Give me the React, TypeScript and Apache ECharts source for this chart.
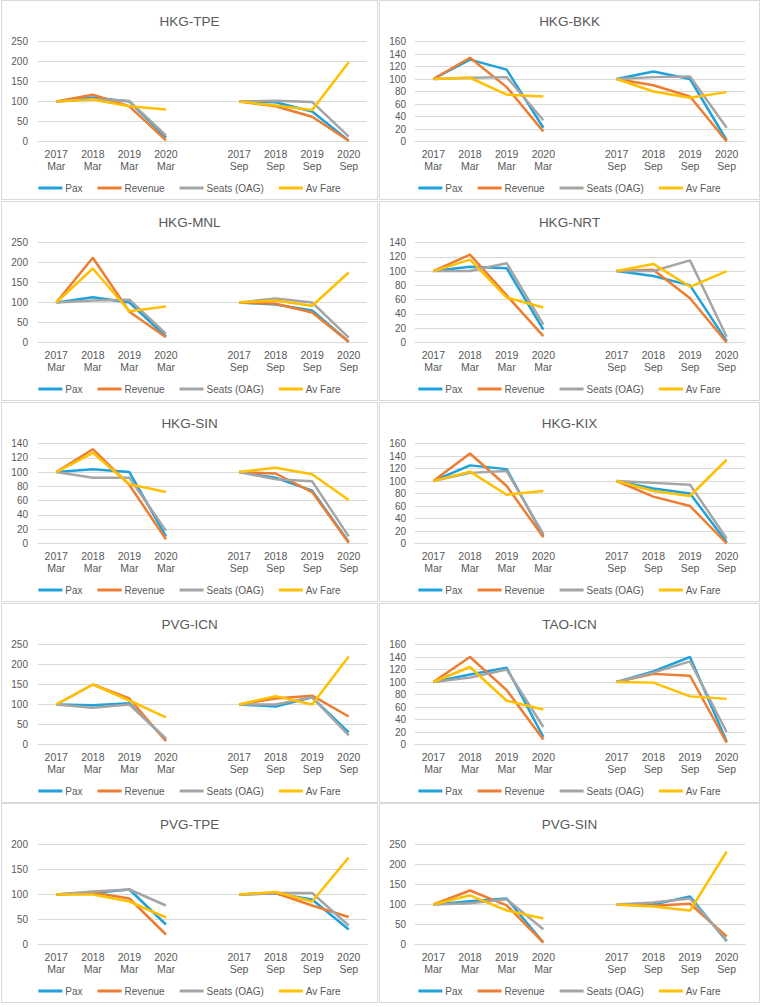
import React, { useEffect, useRef } from "react";
import * as echarts from "echarts";

// ---------- data ----------
const CATEGORIES = [
  "2017\nMar", "2018\nMar", "2019\nMar", "2020\nMar", "",
  "2017\nSep", "2018\nSep", "2019\nSep", "2020\nSep",
];
const SERIES_NAMES = ["Pax", "Revenue", "Seats (OAG)", "Av Fare"];
const SERIES_COLORS = ["#1FA1DB", "#ED7D31", "#A5A5A5", "#FFC000"];

const HKG_TPE_PAX = [100, 110, 100, 10, null, 100, 98, 75, 2];
const HKG_TPE_REV = [100, 117, 88, 3, null, 100, 88, 62, 2];
const HKG_TPE_SEATS = [100, 106, 101, 15, null, 100, 102, 99, 12];
const HKG_TPE_FARE = [100, 105, 88, 80, null, 100, 90, 79, 198];

const HKG_BKK_PAX = [100, 131, 115, 22, null, 100, 112, 100, 2];
const HKG_BKK_REV = [100, 134, 87, 16, null, 100, 90, 72, 0];
const HKG_BKK_SEATS = [100, 102, 103, 34, null, 100, 103, 104, 22];
const HKG_BKK_FARE = [100, 102, 75, 72, null, 100, 80, 70, 79];

const HKG_MNL_PAX = [100, 113, 100, 15, null, 100, 95, 80, 2];
const HKG_MNL_REV = [100, 212, 77, 13, null, 100, 97, 75, 2];
const HKG_MNL_SEATS = [100, 105, 107, 22, null, 100, 110, 100, 12];
const HKG_MNL_FARE = [100, 185, 78, 90, null, 100, 105, 92, 175];

const HKG_NRT_PAX = [100, 106, 104, 18, null, 100, 93, 80, 2];
const HKG_NRT_REV = [100, 123, 66, 9, null, 100, 102, 62, 0];
const HKG_NRT_SEATS = [100, 100, 111, 25, null, 100, 100, 115, 8];
const HKG_NRT_FARE = [100, 116, 63, 49, null, 100, 110, 78, 100];

const HKG_SIN_PAX = [100, 104, 100, 10, null, 100, 92, 74, 2];
const HKG_SIN_REV = [100, 132, 82, 6, null, 100, 98, 72, 1];
const HKG_SIN_SEATS = [100, 92, 92, 18, null, 100, 90, 87, 10];
const HKG_SIN_FARE = [100, 127, 83, 72, null, 100, 106, 97, 61];

const HKG_KIX_PAX = [100, 125, 119, 12, null, 100, 88, 80, 2];
const HKG_KIX_REV = [100, 144, 92, 10, null, 100, 75, 60, 0];
const HKG_KIX_SEATS = [100, 113, 116, 15, null, 100, 97, 94, 8];
const HKG_KIX_FARE = [100, 115, 78, 84, null, 100, 84, 76, 134];

const PVG_ICN_PAX = [100, 98, 103, 12, null, 100, 95, 118, 30];
const PVG_ICN_REV = [100, 150, 115, 8, null, 100, 115, 122, 70];
const PVG_ICN_SEATS = [100, 92, 100, 15, null, 100, 100, 118, 23];
const PVG_ICN_FARE = [100, 150, 110, 68, null, 100, 121, 100, 220];

const TAO_ICN_PAX = [100, 112, 123, 12, null, 100, 117, 140, 5];
const TAO_ICN_REV = [100, 140, 87, 8, null, 100, 113, 110, 3];
const TAO_ICN_SEATS = [100, 107, 120, 28, null, 100, 115, 133, 20];
const TAO_ICN_FARE = [100, 124, 70, 56, null, 100, 99, 77, 73];

const PVG_TPE_PAX = [100, 103, 110, 40, null, 100, 102, 90, 30];
const PVG_TPE_REV = [100, 104, 92, 20, null, 100, 103, 78, 55];
const PVG_TPE_SEATS = [100, 106, 110, 78, null, 100, 103, 103, 38];
const PVG_TPE_FARE = [100, 100, 86, 54, null, 100, 105, 86, 174];

const PVG_SIN_PAX = [100, 108, 115, 5, null, 100, 100, 120, 8];
const PVG_SIN_REV = [100, 135, 98, 5, null, 100, 97, 102, 20];
const PVG_SIN_SEATS = [100, 103, 113, 38, null, 100, 105, 115, 10];
const PVG_SIN_FARE = [100, 123, 85, 65, null, 100, 95, 85, 232];

const ROUTE_TITLES = [
  "HKG-TPE", "HKG-BKK", "HKG-MNL", "HKG-NRT", "HKG-SIN",
  "HKG-KIX", "PVG-ICN", "TAO-ICN", "PVG-TPE", "PVG-SIN",
];
const Y_MAX = [250, 160, 250, 140, 140, 160, 250, 160, 200, 250];
const Y_INTERVAL = [50, 20, 50, 20, 20, 20, 50, 20, 50, 50];
const ROUTE_DATA = [
  [HKG_TPE_PAX, HKG_TPE_REV, HKG_TPE_SEATS, HKG_TPE_FARE],
  [HKG_BKK_PAX, HKG_BKK_REV, HKG_BKK_SEATS, HKG_BKK_FARE],
  [HKG_MNL_PAX, HKG_MNL_REV, HKG_MNL_SEATS, HKG_MNL_FARE],
  [HKG_NRT_PAX, HKG_NRT_REV, HKG_NRT_SEATS, HKG_NRT_FARE],
  [HKG_SIN_PAX, HKG_SIN_REV, HKG_SIN_SEATS, HKG_SIN_FARE],
  [HKG_KIX_PAX, HKG_KIX_REV, HKG_KIX_SEATS, HKG_KIX_FARE],
  [PVG_ICN_PAX, PVG_ICN_REV, PVG_ICN_SEATS, PVG_ICN_FARE],
  [TAO_ICN_PAX, TAO_ICN_REV, TAO_ICN_SEATS, TAO_ICN_FARE],
  [PVG_TPE_PAX, PVG_TPE_REV, PVG_TPE_SEATS, PVG_TPE_FARE],
  [PVG_SIN_PAX, PVG_SIN_REV, PVG_SIN_SEATS, PVG_SIN_FARE],
];

// ---------- layout ----------
const FONT = "'Liberation Sans', Arial, sans-serif";
const TEXT_COLOR = "#595959";
const GRID_COLOR = "#D9D9D9";
const ROW_TOPS = [0, 201, 402, 603, 803];
const COL_LEFTS = [1, 379];
const COL_WIDTHS = [377, 381];
const PANEL_H = 200;

function Panel({ index, left, top, width, height }: any) {
  const ref = useRef<HTMLDivElement>(null);
  useEffect(() => {
    if (!ref.current) return;
    const chart = echarts.init(ref.current, null, { renderer: "svg" });
    const isRight = index % 2 === 1;
    chart.setOption({
      animation: false,
      textStyle: { fontFamily: FONT },
      title: {
        text: ROUTE_TITLES[index],
        left: "center",
        top: 9,
        textStyle: { fontFamily: FONT, fontSize: 13.5, fontWeight: "normal", color: TEXT_COLOR },
      },
      legend: {
        data: SERIES_NAMES,
        left: "center",
        top: 178,
        icon: "rect",
        itemWidth: 24,
        itemHeight: 3,
        itemGap: 15,
        textStyle: { fontFamily: FONT, fontSize: 10, color: TEXT_COLOR, padding: [0, 0, 0, -2] },
      },
      grid: {
        left: isRight ? 36 : 37,
        width: isRight ? 330 : 329,
        top: 41.5,
        height: 100,
        containLabel: false,
      },
      xAxis: {
        type: "category",
        data: CATEGORIES,
        boundaryGap: true,
        axisLine: { show: true, lineStyle: { color: GRID_COLOR, width: 1 } },
        axisTick: { show: false },
        axisLabel: {
          interval: 0,
          margin: 6,
          color: TEXT_COLOR,
          fontFamily: FONT,
          fontSize: 10.5,
          lineHeight: 12,
        },
      },
      yAxis: {
        type: "value",
        min: 0,
        max: Y_MAX[index],
        interval: Y_INTERVAL[index],
        axisLine: { show: false },
        axisTick: { show: false },
        splitLine: { lineStyle: { color: GRID_COLOR, width: 1 } },
        axisLabel: { color: TEXT_COLOR, fontFamily: FONT, fontSize: 10, margin: isRight ? 9 : 10 },
      },
      series: SERIES_NAMES.map((name, i) => ({
        name,
        type: "line",
        data: ROUTE_DATA[index][i],
        symbol: "none",
        connectNulls: false,
        lineStyle: { color: SERIES_COLORS[i], width: 2.5 },
        itemStyle: { color: SERIES_COLORS[i] },
      })),
    });
    return () => chart.dispose();
  }, [index]);
  return (
    <div
      style={{
        position: "absolute",
        left,
        top,
        width,
        height,
        boxSizing: "border-box",
        border: "1px solid #D9D9D9",
        background: "#fff",
      }}
    >
      <div ref={ref} style={{ position: "absolute", left: -1, top: -1, width, height }} />
    </div>
  );
}

export default function App() {
  const panels = ROUTE_TITLES.map((_, i) => {
    const row = Math.floor(i / 2);
    const col = i % 2;
    return (
      <Panel
        key={i}
        index={i}
        left={COL_LEFTS[col]}
        top={ROW_TOPS[row]}
        width={COL_WIDTHS[col]}
        height={PANEL_H}
      />
    );
  });
  return (
    <div
      style={{
        position: "fixed",
        left: 0,
        top: 0,
        width: 763,
        height: 1007,
        background: "#fff",
        overflow: "hidden",
      }}
    >
      {panels}
    </div>
  );
}
